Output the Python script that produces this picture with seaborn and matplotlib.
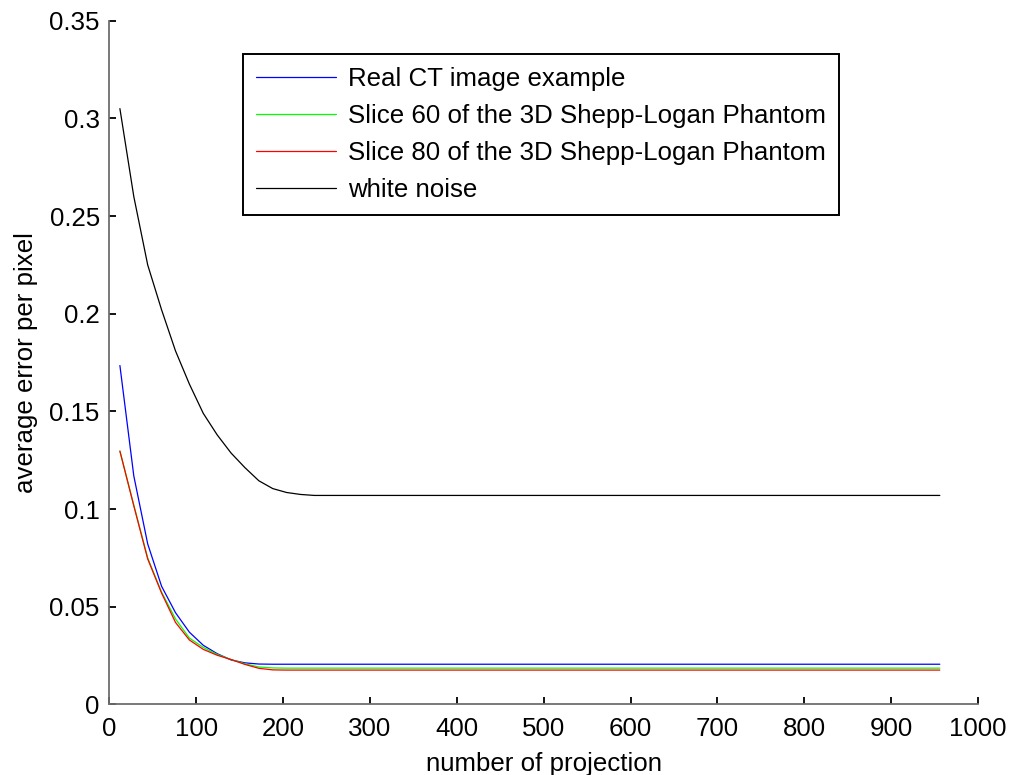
import numpy as np
import pandas as pd
import seaborn as sns
import matplotlib.pyplot as plt
from matplotlib.ticker import FormatStrFormatter

# ---- data (curves go flat after ~236) ----
projections = [12, 28, 44, 60, 76, 92, 108, 124, 140, 156, 172, 188, 204, 220, 236, 956]

real_ct = [0.1735, 0.117, 0.0822, 0.0605, 0.0470, 0.0370, 0.0303, 0.0260,
           0.0228, 0.0213, 0.0207, 0.0206, 0.0206, 0.0206, 0.0206, 0.0206]
slice_60 = [0.1297, 0.1020, 0.0750, 0.0575, 0.0438, 0.0340, 0.0292, 0.0256,
            0.0230, 0.0208, 0.0192, 0.0187, 0.0186, 0.0186, 0.0186, 0.0186]
slice_80 = [0.1297, 0.1017, 0.0745, 0.0570, 0.0420, 0.0330, 0.0282, 0.0252,
            0.0230, 0.0205, 0.0185, 0.0177, 0.0176, 0.0176, 0.0176, 0.0176]
white_noise = [0.305, 0.260, 0.225, 0.202, 0.181, 0.164, 0.149, 0.138,
               0.1287, 0.1212, 0.1145, 0.1105, 0.1085, 0.1075, 0.107, 0.107]

labels = ["Real CT image example",
          "Slice 60 of the 3D Shepp-Logan Phantom",
          "Slice 80 of the 3D Shepp-Logan Phantom",
          "white noise"]
colors = ["#0000ff", "#00ff00", "#ff0000", "#000000"]

x_ticks = [0, 100, 200, 300, 400, 500, 600, 700, 800, 900, 1000]
y_ticks = [0, 0.05, 0.1, 0.15, 0.2, 0.25, 0.3, 0.35]

# long form table for seaborn
frames = []
for lab, vals in zip(labels, [real_ct, slice_60, slice_80, white_noise]):
    frames.append(pd.DataFrame({"projection": projections, "error": vals, "series": lab}))
df = pd.concat(frames, ignore_index=True)

sns.set_style("ticks")
plt.rcParams["font.family"] = ["Liberation Sans", "DejaVu Sans"]
plt.rcParams["text.color"] = "black"
plt.rcParams["axes.labelcolor"] = "black"
plt.rcParams["xtick.color"] = "black"
plt.rcParams["ytick.color"] = "black"
fs = 18.6

fig = plt.figure(figsize=(10.09, 7.75), dpi=100)
ax = fig.add_axes([0.1085, 0.091, 0.8608, 0.8823])

sns.lineplot(data=df, x="projection", y="error", hue="series",
             palette=dict(zip(labels, colors)), hue_order=labels,
             linewidth=0.9, ax=ax, estimator=None, sort=False)

ax.set_xlim(0, 1000)
ax.set_ylim(0, 0.35)
ax.set_xticks(x_ticks)
ax.set_yticks(y_ticks)
ax.yaxis.set_major_formatter(FormatStrFormatter("%g"))

for side in ["top", "right"]:
    ax.spines[side].set_visible(False)
for side in ["left", "bottom"]:
    ax.spines[side].set_color("#6e6e6e")
    ax.spines[side].set_linewidth(1.3)

ax.tick_params(axis="both", direction="in", length=5, width=1.3,
               color="black", labelsize=fs, labelcolor="black")
ax.tick_params(axis="y", pad=7)
ax.tick_params(axis="x", pad=9)

ax.set_xlabel("number of projection", fontsize=fs, labelpad=8)
ax.set_ylabel("average error per pixel", fontsize=fs, labelpad=8)

leg = ax.legend(loc="upper left", bbox_to_anchor=(0.154, 0.951),
                fontsize=fs, frameon=True, fancybox=False, framealpha=1,
                borderaxespad=0, borderpad=0.5, handlelength=3.1,
                handletextpad=0.47, labelspacing=0.5)
leg.get_frame().set_edgecolor("black")
leg.get_frame().set_linewidth(1.4)

plt.savefig("out.png", dpi=100)
